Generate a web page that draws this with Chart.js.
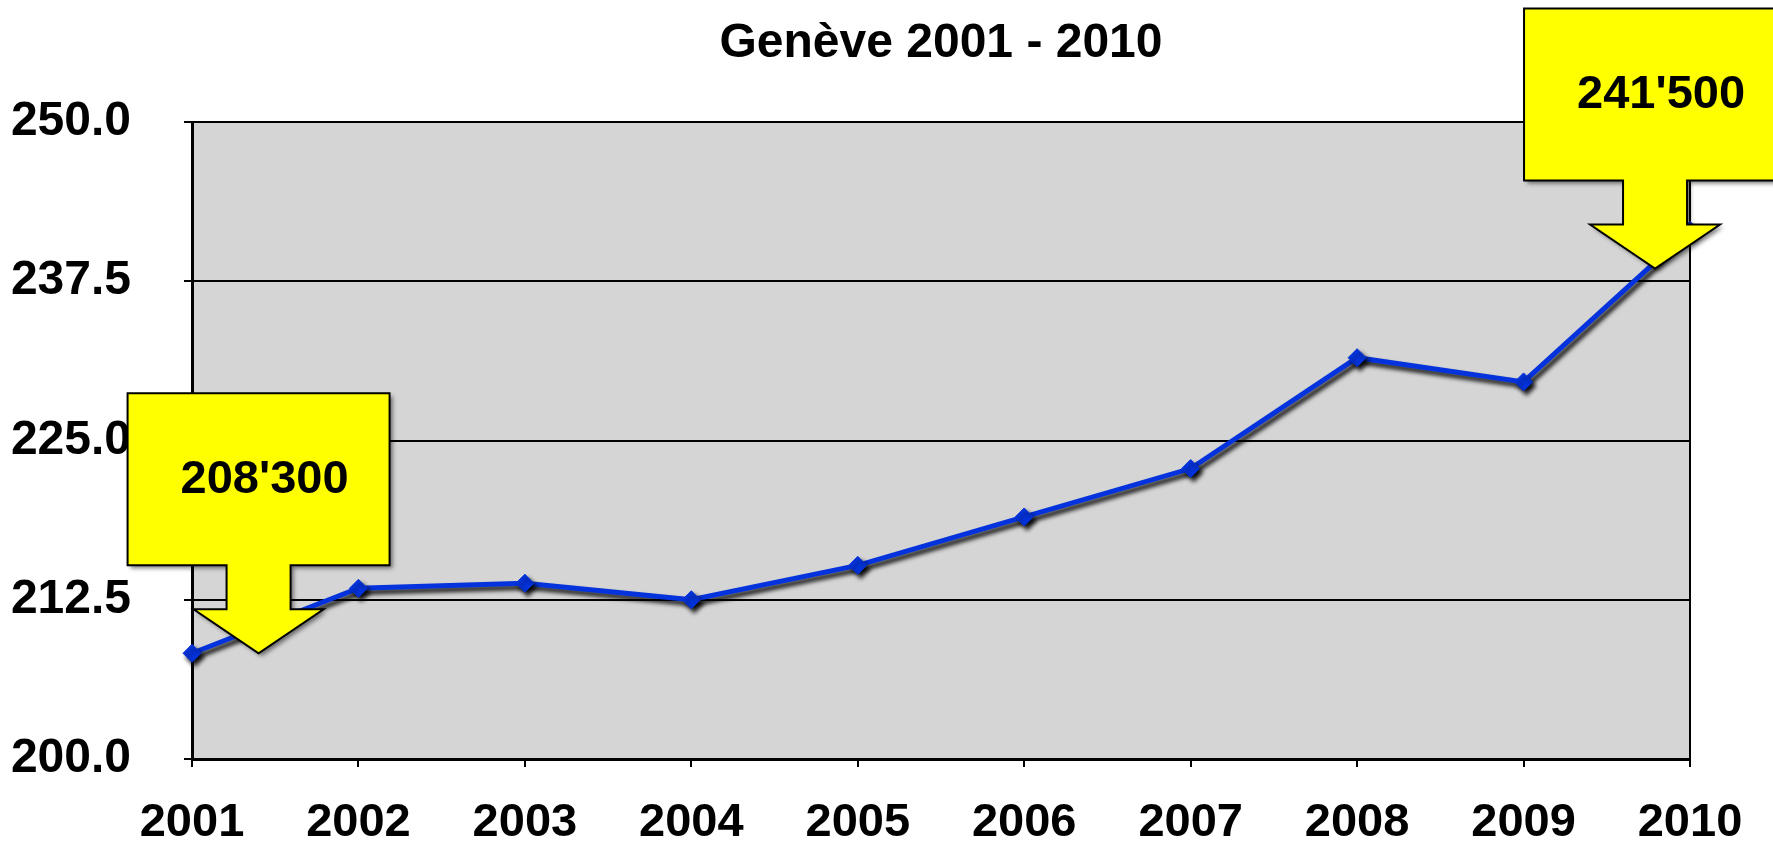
<!DOCTYPE html>
<html>
<head>
<meta charset="utf-8">
<script src="https://cdn.jsdelivr.net/npm/chart.js@4.4.1/dist/chart.umd.min.js"></script>
<style>
  html, body { margin: 0; padding: 0; background: #fff; }
  #wrap { width: 1773px; height: 845px; }
</style>
</head>
<body>
<div id="wrap"><canvas id="geneve" width="1773" height="845"></canvas></div>
<script>
// population du canton (milliers)
const years = ['2001', '2002', '2003', '2004', '2005', '2006', '2007', '2008', '2009', '2010'];
const population = [208.3, 213.4, 213.8, 212.5, 215.2, 219.0, 222.8, 231.5, 229.6, 241.5];
const yTicks = [200, 212.5, 225, 237.5, 250];
const chartTitle = 'Genève 2001 - 2010';

// bulles jaunes : point de la flèche (index, valeur) + quelle année afficher
const callouts = [
  { at: 0.4, value: 208.3, year: 0 },
  { at: 8.79, value: 238.5, year: 9 }
];

const FONT = '"Liberation Sans", Arial, Helvetica, sans-serif';

function fmt(v) {
  const n = String(Math.round(v * 1000));
  return n.slice(0, -3) + "'" + n.slice(-3);
}

const plotFrame = {
  id: 'plotFrame',
  beforeDraw(chart) {
    const { ctx, chartArea: a } = chart;
    ctx.save();
    ctx.fillStyle = '#d5d5d5';
    ctx.fillRect(a.left, a.top, a.width, a.height);
    ctx.strokeStyle = '#000';
    ctx.lineWidth = 2;
    ctx.strokeRect(a.left, a.top, a.width, a.height);
    ctx.restore();
  }
};

const lineShadow = {
  id: 'lineShadow',
  beforeDatasetsDraw(chart) {
    const c = chart.ctx;
    c.save();
    c.shadowColor = 'rgba(0,0,0,0.9)';
    c.shadowBlur = 4;
    c.shadowOffsetX = 3;
    c.shadowOffsetY = 4;
  },
  afterDatasetsDraw(chart) {
    chart.ctx.restore();
  }
};

function drawCallout(ctx, x, y, text) {
  ctx.save();
  ctx.beginPath();
  ctx.moveTo(x - 131, y - 260);
  ctx.lineTo(x + 131, y - 260);
  ctx.lineTo(x + 131, y - 88);
  ctx.lineTo(x + 32, y - 88);
  ctx.lineTo(x + 32, y - 44);
  ctx.lineTo(x + 65, y - 44);
  ctx.lineTo(x, y);
  ctx.lineTo(x - 65, y - 44);
  ctx.lineTo(x - 32, y - 44);
  ctx.lineTo(x - 32, y - 88);
  ctx.lineTo(x - 131, y - 88);
  ctx.closePath();
  ctx.shadowColor = 'rgba(0,0,0,0.5)';
  ctx.shadowBlur = 4;
  ctx.shadowOffsetX = 3;
  ctx.shadowOffsetY = 3;
  ctx.fillStyle = '#ffff00';
  ctx.fill();
  ctx.shadowColor = 'transparent';
  ctx.strokeStyle = '#000';
  ctx.lineWidth = 2;
  ctx.stroke();
  ctx.fillStyle = '#000';
  ctx.font = 'bold 47px ' + FONT;
  ctx.textAlign = 'center';
  ctx.textBaseline = 'middle';
  ctx.fillText(text, x + 6, y - 173);
  ctx.restore();
}

const overlays = {
  id: 'overlays',
  afterDraw(chart) {
    const { ctx, chartArea: a, scales } = chart;
    callouts.forEach(c => {
      drawCallout(ctx, scales.x.getPixelForValue(c.at), scales.y.getPixelForValue(c.value), fmt(population[c.year]));
    });
    ctx.save();
    ctx.fillStyle = '#000';
    ctx.font = 'bold 48px ' + FONT;
    ctx.textAlign = 'center';
    ctx.textBaseline = 'middle';
    ctx.fillText(chartTitle, (a.left + a.right) / 2, 44);
    ctx.restore();
  }
};

new Chart(document.getElementById('geneve'), {
  type: 'line',
  data: {
    labels: years,
    datasets: [{
      data: population,
      borderColor: '#0433dd',
      backgroundColor: '#0433dd',
      borderWidth: 5,
      pointStyle: 'rectRot',
      pointRadius: 9,
      pointBorderWidth: 1,
      tension: 0,
      clip: false
    }]
  },
  options: {
    responsive: false,
    animation: false,
    devicePixelRatio: 1,
    layout: { padding: { top: 122, right: 83, left: 0, bottom: 0 } },
    plugins: {
      legend: { display: false },
      tooltip: { enabled: false },
      title: { display: false }
    },
    scales: {
      x: {
        offset: false,
        grid: { drawOnChartArea: false, color: '#000', lineWidth: 2, tickLength: 8 },
        border: { color: '#000', width: 3 },
        ticks: { color: '#000', font: { family: FONT, size: 47, weight: 'bold' }, padding: 28, maxRotation: 0, autoSkip: false },
        afterFit(s) { s.height = 86; }
      },
      y: {
        min: 200,
        max: 250,
        afterBuildTicks(s) { s.ticks = yTicks.map(v => ({ value: v })); },
        grid: { color: '#000', lineWidth: 2, tickLength: 8 },
        border: { color: '#000', width: 3 },
        ticks: { color: '#000', font: { family: FONT, size: 48, weight: 'bold' }, padding: 53, callback: v => v.toFixed(1) },
        afterFit(s) { s.width = 192; }
      }
    }
  },
  plugins: [plotFrame, lineShadow, overlays]
});
</script>
</body>
</html>
